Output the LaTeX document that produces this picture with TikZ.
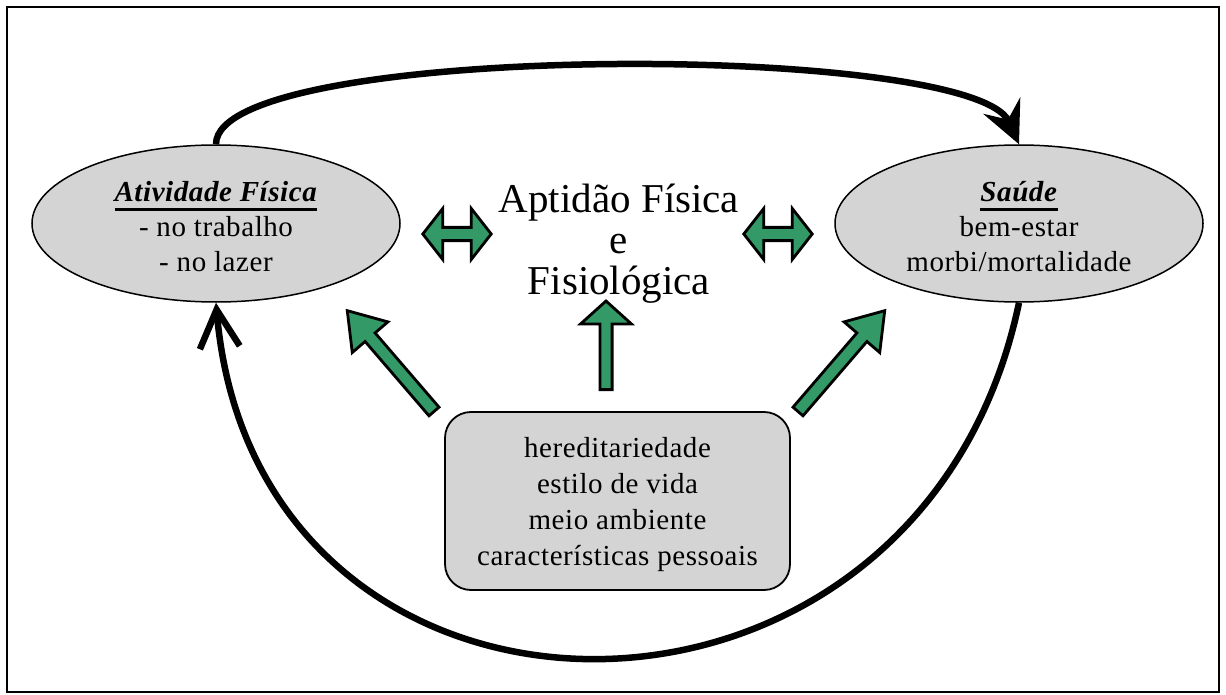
\documentclass[tikz,border=0pt]{standalone}
\usepackage{fontspec}
\setmainfont{Liberation Serif}
\usetikzlibrary{shapes.geometric,arrows.meta,calc}
\definecolor{arrowgreen}{RGB}{51,153,102}
\definecolor{shade}{RGB}{212,212,212}
% heavy underline set a little below the baseline
\newcommand{\thickuline}[1]{\setbox0\hbox{#1}\rlap{\rule[-9pt]{\wd0}{2.8pt}}\box0}
% green block arrow pointing along the local +x axis:
% origin, angle, length, head length, head half-width, shaft half-width
\newcommand{\singlearrow}[6]{%
  \draw[block, shift={(#1)}, rotate=#2]
    (0,-#6) -- ({#3-#4},-#6) -- ({#3-#4},-#5) -- (#3,0) -- ({#3-#4},#5)
    -- ({#3-#4},#6) -- (0,#6) -- cycle;}
% green two-headed block arrow: origin, length, head length, head half-width, shaft half-width
\newcommand{\doublearrow}[5]{%
  \draw[block, shift={(#1)}]
    (0,0) -- (#3,-#4) -- (#3,-#5) -- ({#2-#3},-#5) -- ({#2-#3},-#4) -- (#2,0)
    -- ({#2-#3},#4) -- ({#2-#3},#5) -- (#3,#5) -- (#3,#4) -- cycle;}
\begin{document}
\begin{tikzpicture}[x=1pt,y=-1pt,
  every node/.style={inner sep=0pt},
  bubble/.style={ellipse, draw=black, line width=1.5pt, fill=shade,
    minimum width=368pt, minimum height=157pt, align=center,
    font=\fontsize{29}{35}\selectfont\addfontfeature{LetterSpace=2}},
  factors/.style={rectangle, rounded corners=26pt, draw=black, line width=1.8pt,
    fill=shade, minimum width=345pt, minimum height=178pt, align=center,
    font=\fontsize{29}{36}\selectfont\addfontfeature{LetterSpace=2}},
  loop/.style={line width=6.5pt},
  block/.style={fill=arrowgreen, draw=black, line width=2.8pt, line join=miter}]
\useasboundingbox (0,0) rectangle (1226,695);
\draw[line width=1.5pt] (7,7) rectangle (1219,692);

% the three boxes
\node[bubble] (af) at (216,223.5)
  {\rule{0pt}{27pt}\thickuline{\textbf{\textit{Atividade Física}}}\\- no trabalho\\- no lazer};
\node[bubble] (sd) at (1019,223.5)
  {\rule{0pt}{27pt}\thickuline{\textbf{\textit{Saúde}}}\\bem-estar\\morbi/mortalidade};
\node[factors] (fat) at (617.5,501)
  {\rule{0pt}{28pt}hereditariedade\\estilo de vida\\meio ambiente\\características pessoais};

% central label
\node[font=\fontsize{41}{41}\selectfont, align=center] (apt) at (619,244)
  {Aptidão Física\\e\\Fisiológica};

% outer cycle
\draw[loop, -{Stealth[length=42pt,width=40pt,inset=15pt]}]
  (af.north) .. controls +(0,-103) and +(-46,-103) .. (sd.north);
\draw[loop, -{Straight Barb[length=38pt,width=40pt]}]
  (sd.south) .. controls +(-100,477) and +(40,470) .. (af.south);

% two-headed arrows beside the central label
\doublearrow{422.8,234}{68.4}{20}{25.6}{6.6}
\doublearrow{743.8,234}{68.4}{20}{25.6}{6.6}

% arrows rising from the factors box
\singlearrow{606,389.6}{90}{88.6}{23}{25.5}{6.1}
\singlearrow{434,411.5}{130.7}{133}{35}{23.5}{6.6}
\singlearrow{798,411.5}{49.3}{133}{35}{23.5}{6.6}
\end{tikzpicture}
\end{document}
